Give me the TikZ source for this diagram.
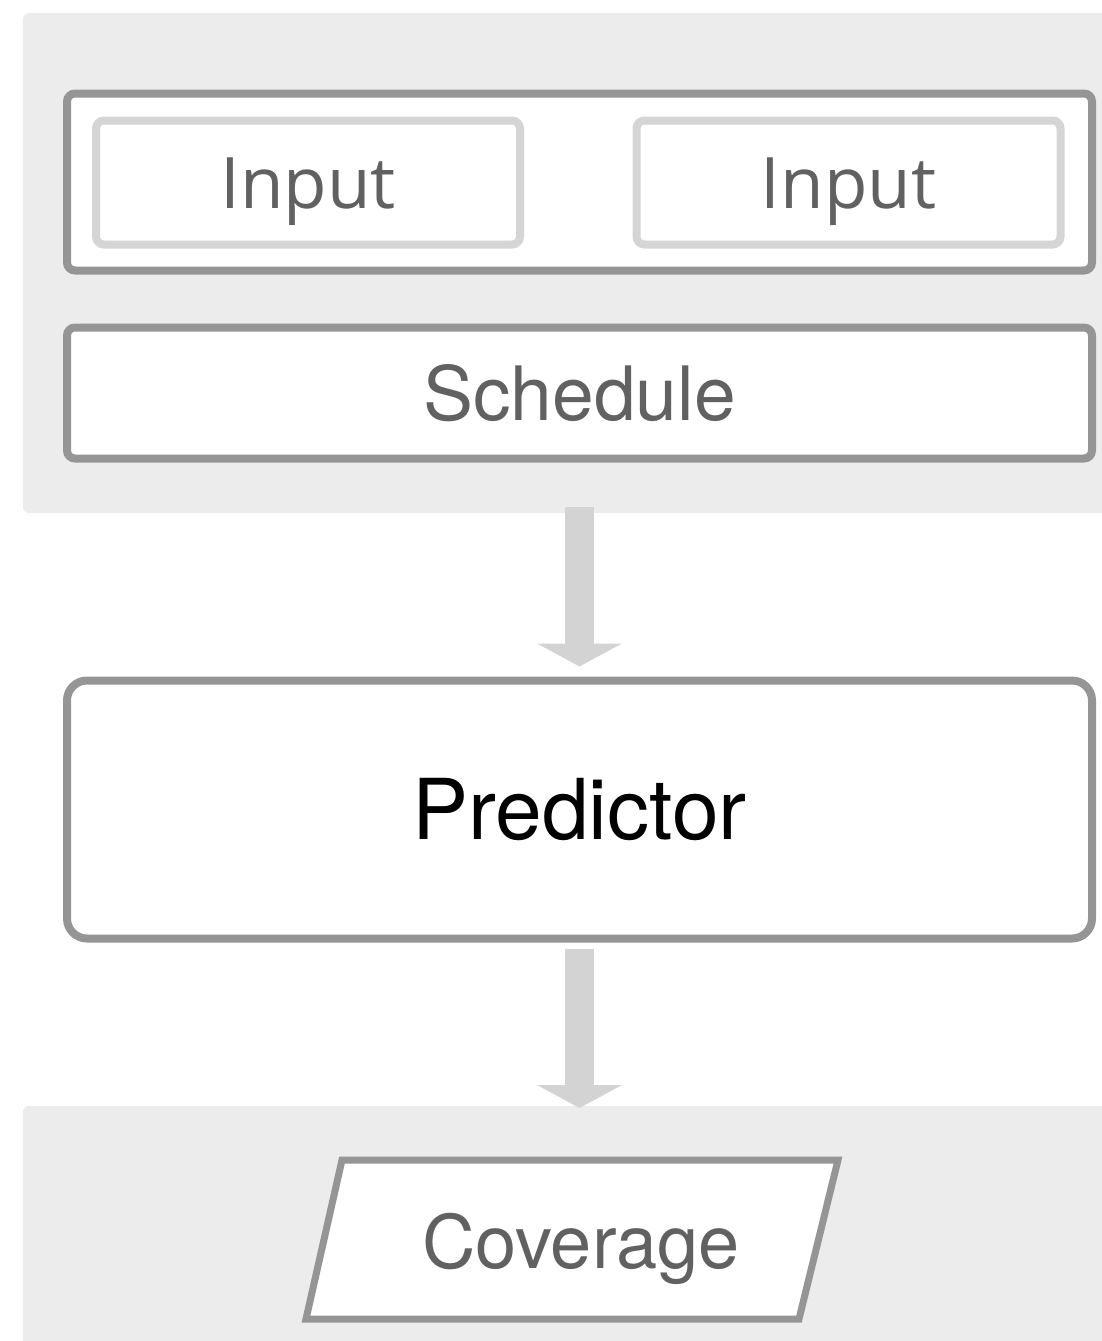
\documentclass[tikz,border=0pt]{standalone}
\usepackage{fontspec}
\setmainfont{TeX Gyre Heros}
\newfontfamily\inputfont{Open Sans}
\usetikzlibrary{arrows.meta, positioning}
\definecolor{fcPanel}{HTML}{ECECEC}
\definecolor{fcFrame}{HTML}{959595}
\definecolor{fcSoft}{HTML}{D5D5D5}
\definecolor{fcArrow}{HTML}{D3D3D3}
\definecolor{fcText}{HTML}{616161}
\tikzset{
  fcpanel/.style={rectangle, rounded corners=6pt, fill=fcPanel, inner sep=0pt, outer sep=0pt},
  fcframe/.style={rectangle, rounded corners=8pt, draw=fcFrame, line width=8pt, fill=white,
                  inner sep=0pt, outer sep=0pt, text=fcText, font=\fontsize{75}{80}\selectfont,
                  text height=54pt, text depth=0pt, minimum width=1025pt},
  fcinput/.style={fcframe, draw=fcSoft, font=\inputfont\fontsize{71}{80}\selectfont,
                  text height=51pt, minimum width=424pt, minimum height=124pt},
  fcflow/.style={-{Triangle[width=84pt, length=23pt]}, line width=29pt, draw=fcArrow},
}

\begin{document}
\begin{tikzpicture}[x=1pt, y=-1pt,
  slant/.style={draw=fcFrame, line width=7pt, fill=white, line join=miter}]
  \useasboundingbox (0,0) rectangle (1101,1341);
  % grey bands behind the top and bottom blocks
  \node[fcpanel, minimum width=1102pt, minimum height=500pt](inpanel) at (574,263){};
  \node[fcpanel, minimum width=1102pt, minimum height=254pt](outpanel) at (574,1233){};
  % inputs and schedule
  \node[fcframe, minimum height=177pt](inputs) at (579.5,182){};
  \node[fcinput](inA) at (308,182.5){Input};
  \node[fcinput](inB) at (848.5,182.5){Input};
  \node[fcframe, minimum height=131pt, below=57pt of inputs](sched){Schedule};
  % model
  \node[fcframe, rounded corners=20pt, minimum height=258pt, below=222pt of sched,
        text=black, font=\fontsize{84}{90}\selectfont, text height=60pt](pred){Predictor};
  % output
  \draw[slant] (342,1160) -- (838,1160) -- (799,1319) -- (306,1319) -- cycle;
  \node[text=fcText, font=\fontsize{74}{80}\selectfont, text height=53pt, text depth=0pt,
        inner sep=0pt](cov) at (581,1241.5){Coverage};
  \draw[fcflow] ([yshift=6pt]inpanel.south -| pred.north) -- ([yshift=14pt]pred.north);
  \draw[fcflow] ([yshift=-10pt]pred.south) -- ([yshift=-2pt]outpanel.north -| pred.south);
\end{tikzpicture}
\end{document}
